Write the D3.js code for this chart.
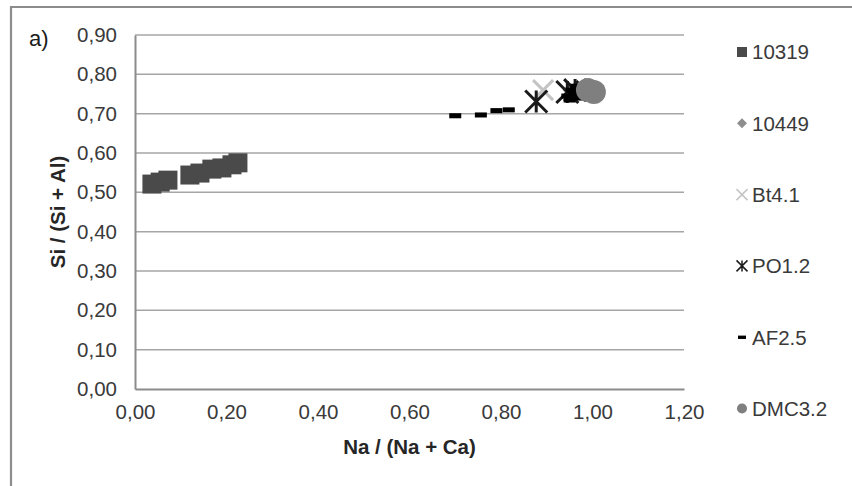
<!DOCTYPE html>
<html><head><meta charset="utf-8">
<script src="https://cdn.jsdelivr.net/npm/d3@7"></script>
<style>body{margin:0;background:#fff}svg{display:block;font-family:"Liberation Sans",Arial,sans-serif}</style>
</head><body><svg id="c" width="852" height="486"></svg>
<script>
// ---- data ----
const xTicks = [0,0.2,0.4,0.6,0.8,1.0,1.2];
const yTicks = [0,0.1,0.2,0.3,0.4,0.5,0.6,0.7,0.8,0.9];
const seriesNames = ["10319","10449","Bt4.1","PO1.2","AF2.5","DMC3.2"];
const x10319 = [0.037,0.055,0.072,0.120,0.142,0.168,0.190,0.212,0.225];
const y10319 = [0.521,0.526,0.531,0.544,0.549,0.559,0.562,0.570,0.575];
const x10449 = [0.950,0.962];
const y10449 = [0.760,0.755];
const xBt41 = [0.892];
const yBt41 = [0.760];
const xPO12 = [0.877,0.945,0.962];
const yPO12 = [0.731,0.755,0.760];
const xAF25 = [0.700,0.756,0.790,0.817,0.945,0.955,0.965,0.975,0.950,0.970,0.960,0.980];
const yAF25 = [0.695,0.697,0.708,0.710,0.745,0.760,0.770,0.755,0.735,0.740,0.750,0.765];
const xDMC32 = [0.990,1.003];
const yDMC32 = [0.760,0.755];

const svg = d3.select("#c");
const L=135,R=684,T=35,B=389;
const FS=20.5;
const x = d3.scaleLinear().domain([0,1.2]).range([L,R]);
const y = d3.scaleLinear().domain([0,0.9]).range([B,T]);
const fmt = d => d3.format(".2f")(d).replace(".",",");

// outer frame
svg.append("path").attr("d","M11,486V7H852").attr("fill","none").attr("stroke","#8c8c8c").attr("stroke-width",2.2);

// gridlines
svg.append("g").selectAll("line").data(yTicks.filter(d=>d>0)).join("line")
  .attr("x1",L).attr("x2",R).attr("y1",d=>y(d)).attr("y2",d=>y(d))
  .attr("stroke","#a6a6a6").attr("stroke-width",1.5);

// axes
const gx = svg.append("g").attr("transform",`translate(0,${B})`)
  .call(d3.axisBottom(x).tickValues(xTicks).tickFormat(fmt).tickSize(0).tickPadding(17));
const gy = svg.append("g").attr("transform",`translate(${L},0)`)
  .call(d3.axisLeft(y).tickValues(yTicks).tickFormat(fmt).tickSize(0).tickPadding(18));
[gx,gy].forEach(g=>{
  g.select(".domain").attr("stroke","#8c8c8c").attr("stroke-width",2);
  g.selectAll("text").attr("font-size",FS).attr("fill","#3a3a3a").attr("font-family","Liberation Sans, Arial, sans-serif");
});
gx.selectAll("text").attr("dy","0.62em");

// titles
svg.append("text").attr("x",(L+R)/2).attr("y",454).attr("text-anchor","middle")
  .attr("font-size",FS).attr("font-weight","bold").attr("fill","#262626").text("Na / (Na + Ca)");
svg.append("text").attr("transform",`translate(65,${(T+B)/2}) rotate(-90)`).attr("text-anchor","middle")
  .attr("font-size",FS).attr("font-weight","bold").attr("fill","#262626").text("Si / (Si + Al)");
svg.append("text").attr("x",29).attr("y",46).attr("font-size",22).attr("fill","#1a1a1a").text("a)");

// marker drawers
const colors = ["#4a4a4a","#8e8e8e","#c4c4c4","#1a1a1a","#000000","#7f7f7f"];
function drawMarker(g, type, cx, cy, s, col, sw){
  if(type===0){ g.append("rect").attr("x",cx-s/2).attr("y",cy-s/2).attr("width",s).attr("height",s).attr("fill",col); }
  else if(type===1){ g.append("path").attr("d",`M${cx},${cy-s/2}L${cx+s/2},${cy}L${cx},${cy+s/2}L${cx-s/2},${cy}Z`).attr("fill",col); }
  else if(type===2){ const h=s/2; g.append("path").attr("d",`M${cx-h},${cy-h}L${cx+h},${cy+h}M${cx-h},${cy+h}L${cx+h},${cy-h}`).attr("stroke",col).attr("stroke-width",sw).attr("fill","none"); }
  else if(type===3){ const h=s/2; g.append("path").attr("d",`M${cx-h},${cy-h}L${cx+h},${cy+h}M${cx-h},${cy+h}L${cx+h},${cy-h}M${cx},${cy-h}L${cx},${cy+h}`).attr("stroke",col).attr("stroke-width",sw).attr("fill","none"); }
  else if(type===4){ g.append("rect").attr("x",cx-s/2).attr("y",cy-s*0.2).attr("width",s).attr("height",s*0.42).attr("fill",col); }
  else if(type===5){ g.append("circle").attr("cx",cx).attr("cy",cy).attr("r",s/2).attr("fill",col); }
}
const seriesX=[x10319,x10449,xBt41,xPO12,xAF25,xDMC32];
const seriesY=[y10319,y10449,yBt41,yPO12,yAF25,yDMC32];
const sizes=[19,14,20,22,12,24];
const pts = svg.append("g");
seriesX.forEach((xs,i)=>{
  xs.forEach((v,j)=>drawMarker(pts,i,x(v),y(seriesY[i][j]),sizes[i],colors[i],3));
});

// legend
const leg = svg.append("g");
const legSizes=[10,10,11,11,8,10];
seriesNames.forEach((n,i)=>{
  const cy = 52 + i*71.3;
  drawMarker(leg,i,742,cy,legSizes[i],colors[i],1.5);
  leg.append("text").attr("x",752).attr("y",cy).attr("dy","0.36em").attr("font-size",FS).attr("fill","#3a3a3a").text(n);
});
</script></body></html>
